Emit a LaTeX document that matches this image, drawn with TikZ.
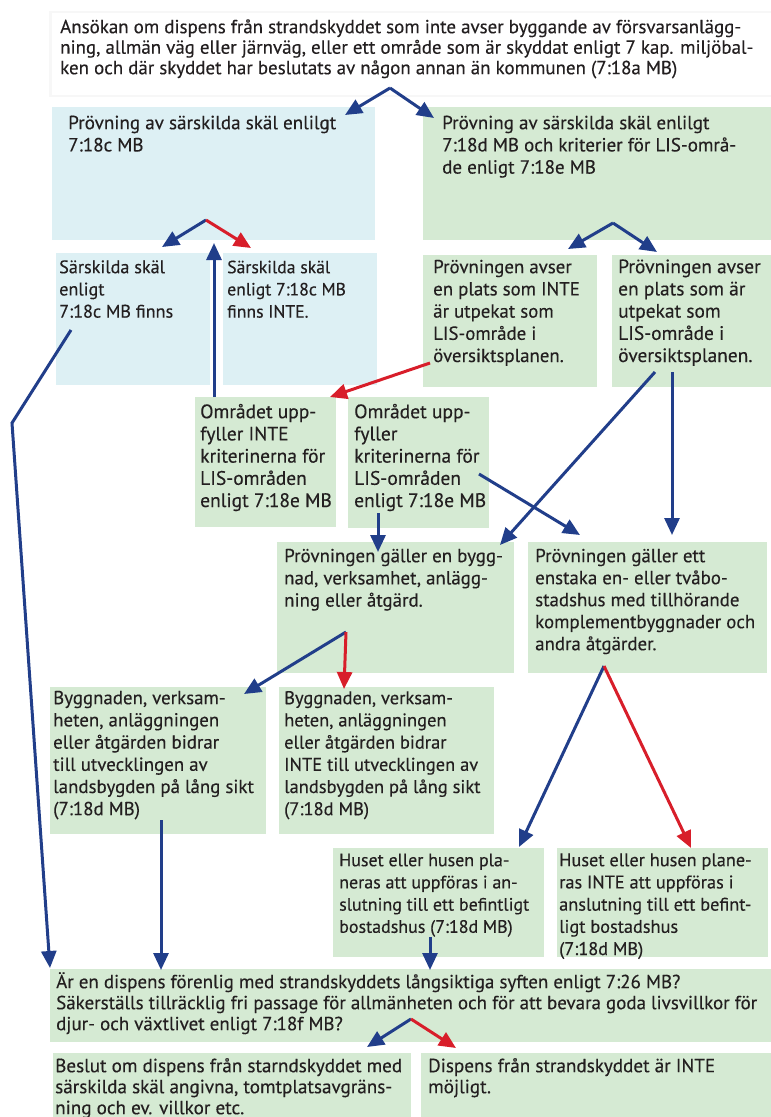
\documentclass[tikz,border=0pt]{standalone}
\usepackage{fontspec}
\setmainfont{PT Sans}[FakeBold=0.3]
\usetikzlibrary{arrows.meta}
\definecolor{boxblue}{HTML}{DDF0F4}
\definecolor{boxgreen}{HTML}{D5EAD3}
\definecolor{arrblue}{HTML}{213E8A}
\definecolor{arrred}{HTML}{D81E2A}
\definecolor{txt}{HTML}{231F20}
\tikzset{
  bx/.style={inner sep=0pt, outer sep=0pt},
  lbl/.style={anchor=north west, inner sep=0pt, align=left, text=txt},
  con/.style={line width=3pt, -{Triangle[length=17pt,width=15pt]}},
  yes/.style={con, arrblue},
  no/.style={con, arrred},
}
\newlength{\mymeasurelen}
\newcommand{\calcfs}[3]{%
  \setbox2=\hbox{\normalfont\fontsize{10}{10}\selectfont #2}%
  \global\mymeasurelen=\wd2\relax
  \ifdim\mymeasurelen>1pt
    \pgfmathsetmacro{\tmpfs}{10*#3/\mymeasurelen}%
  \else
    \def\tmpfs{17}%
  \fi
  \expandafter\xdef\csname myfs#1\endcsname{\tmpfs}}
\newcommand{\mybox}[6]{%
  \fill[#6] (#2,#3) rectangle (#4,#5);
  \node[bx, minimum width={(#4-#2)*1pt}, minimum height={(#5-#3)*1pt}] (#1) at ({(#2+#4)/2},{(#3+#5)/2}) {};
}
% name, x, baseline y, leading, text
\newcommand{\fitnode}[5]{%
  \node[lbl, font=\fontsize{\csname myfs#1\endcsname}{#4}\selectfont] (#1) at (#2,#3-20) {\rule{0pt}{20pt}#5};
}
\begin{document}
\calcfs{ttop}{Ansökan om dispens från strandskyddet som inte avser byggande av försvarsanlägg-}{681}%
\calcfs{tA}{Prövning av särskilda skäl enlilgt}{268}%
\calcfs{tB}{7:18d MB och kriterier för LIS-områ-}{294}%
\calcfs{tC}{7:18c MB finns}{114}%
\calcfs{tD}{enligt 7:18c MB}{118.7}%
\calcfs{tE}{en plats som INTE}{146.7}%
\calcfs{tF}{översiktsplanen.}{134.3}%
\calcfs{tG}{kriterinerna för}{125}%
\calcfs{tH}{kriterinerna för}{125.3}%
\calcfs{tI}{Prövningen gäller en bygg-}{218.7}%
\calcfs{tJ}{komplementbyggnader och}{220}%
\calcfs{tK}{landsbygden på lång sikt}{200.7}%
\calcfs{tL}{INTE till utvecklingen av}{194}%
\calcfs{tM}{slutning till ett befintligt}{190}%
\calcfs{tN}{anslutning till ett befint-}{192.3}%
\calcfs{tO}{Säkerställs tillräcklig fri passage för allmänheten och för att bevara goda livsvillkor för}{701}%
\calcfs{tP}{Beslut om dispens från starndskyddet med}{347}%
\calcfs{tQ}{Dispens från strandskyddet är INTE}{287}%
\begin{tikzpicture}[x=1pt,y=-1pt]
\useasboundingbox (0,0) rectangle (771,1117);
\clip (0,0) rectangle (771,1117);
% top box with faint shadow
\fill[gray!6] (49,11) rectangle (771,97);
\mybox{top}{52}{13}{771}{95}{white}
\mybox{A}{52}{107}{375}{240}{boxblue}
\mybox{B}{423}{107}{771}{240}{boxgreen}
\mybox{C}{56}{253}{210}{385}{boxblue}
\mybox{D}{223}{253}{377}{385}{boxblue}
\mybox{E}{423}{255}{597}{387}{boxgreen}
\mybox{F}{612}{255}{771}{387}{boxgreen}
\mybox{G}{195}{397}{336}{527}{boxgreen}
\mybox{H}{348}{397}{489}{528}{boxgreen}
\mybox{I}{277}{542}{514}{673}{boxgreen}
\mybox{J}{528}{542}{767}{673}{boxgreen}
\mybox{K}{50}{687}{266}{834}{boxgreen}
\mybox{L}{279}{687}{494}{834}{boxgreen}
\mybox{M}{333}{848}{544}{957}{boxgreen}
\mybox{N}{557}{848}{768}{957}{boxgreen}
\mybox{O}{50}{969}{771}{1042}{boxgreen}
\mybox{P}{53}{1053}{411}{1117}{boxgreen}
\mybox{Q}{421}{1053}{771}{1117}{boxgreen}

\fitnode{ttop}{60}{33}{20.5}
  {Ansökan om dispens från strandskyddet som inte avser byggande av försvarsanlägg-\\ning, allmän väg eller järnväg, eller ett område som är skyddat enligt 7 kap. miljöbal-\\ken och där skyddet har beslutats av någon annan än kommunen (7:18a MB)}
\fitnode{tA}{68}{129}{22.2}
  {Prövning av särskilda skäl enlilgt\\7:18c MB}
\fitnode{tB}{442}{129}{22.2}
  {Prövning av särskilda skäl enlilgt\\7:18d MB och kriterier för LIS-områ-\\de enligt 7:18e MB}
\fitnode{tC}{59}{273}{22.2}
  {Särskilda skäl\\enligt\\7:18c MB finns}
\fitnode{tD}{227}{273}{22.2}
  {Särskilda skäl\\enligt 7:18c MB\\finns INTE.}
\fitnode{tE}{433}{273}{22.2}
  {Prövningen avser\\en plats som INTE\\är utpekat som\\LIS-område i\\översiktsplanen.}
\fitnode{tF}{618}{273}{22.2}
  {Prövningen avser\\en plats som är\\utpekat som\\LIS-område i\\översiktsplanen.}
\fitnode{tG}{200}{418}{22.2}
  {Området upp-\\fyller INTE\\kriterinerna för\\LIS-områden\\enligt 7:18e MB}
\fitnode{tH}{354}{418}{22.2}
  {Området upp-\\fyller\\kriterinerna för\\LIS-områden\\enligt 7:18e MB}
\fitnode{tI}{284}{562}{22.2}
  {Prövningen gäller en bygg-\\nad, verksamhet, anlägg-\\ning eller åtgärd.}
\fitnode{tJ}{535}{562}{22}
  {Prövningen gäller ett\\enstaka en- eller tvåbo-\\stadshus med tillhörande\\komplementbyggnader och\\andra åtgärder.}
\fitnode{tK}{53}{704}{22.2}
  {Byggnaden, verksam-\\heten, anläggningen\\eller åtgärden bidrar\\till utvecklingen av\\landsbygden på lång sikt\\(7:18d MB)}
\fitnode{tL}{284}{704}{22.2}
  {Byggnaden, verksam-\\heten, anläggningen\\eller åtgärden bidrar\\INTE till utvecklingen av\\landsbygden på lång sikt\\(7:18d MB)}
\fitnode{tM}{339}{866}{22.2}
  {Huset eller husen pla-\\neras att uppföras i an-\\slutning till ett befintligt\\bostadshus (7:18d MB)}
\fitnode{tN}{559}{866}{22.2}
  {Huset eller husen plane-\\ras INTE att uppföras i\\anslutning till ett befint-\\ligt bostadshus\\(7:18d MB)}
\fitnode{tO}{56}{988}{21}
  {Är en dispens förenlig med strandskyddets långsiktiga syften enligt 7:26 MB?\\Säkerställs tillräcklig fri passage för allmänheten och för att bevara goda livsvillkor för\\djur- och växtlivet enligt 7:18f MB?}
\fitnode{tP}{55}{1072}{21}
  {Beslut om dispens från starndskyddet med\\särskilda skäl angivna, tomtplatsavgräns-\\ning och ev. villkor etc.}
\fitnode{tQ}{428}{1072}{21}
  {Dispens från strandskyddet är INTE\\möjligt.}

% connector coordinates
\coordinate (s1) at (390,88);
\coordinate (s1a) at (345,115);
\coordinate (s1b) at (434,118);
\coordinate (sA) at (206,220);
\coordinate (sAa) at (162,247);
\coordinate (sAb) at (251,248);
\coordinate (upS) at (214,397);
\coordinate (upT) at (214,243);
\coordinate (sB) at (613,223);
\coordinate (sBa) at (568,249);
\coordinate (sBb) at (657,252);
\coordinate (cS) at (71,330);
\coordinate (cK) at (12,423);
\coordinate (cT) at (50,968);
\coordinate (eS) at (430,363);
\coordinate (eT) at (330,397);
\coordinate (fS1) at (655,372);
\coordinate (fT1) at (500,545);
\coordinate (fS2) at (672,372);
\coordinate (fT2) at (672,535);
\coordinate (hS1) at (378,513);
\coordinate (hT1) at (378,552);
\coordinate (hS2) at (479,474);
\coordinate (hT2) at (580,535);
\coordinate (iS) at (346,632);
\coordinate (iTa) at (244,694);
\coordinate (iTb) at (344,689);
\coordinate (jS) at (604,666);
\coordinate (jTa) at (519,847);
\coordinate (jTb) at (691,848);
\coordinate (kS) at (161,820);
\coordinate (kT) at (161,970);
\coordinate (mS) at (430,937);
\coordinate (mT) at (430,970);
\coordinate (oS) at (411,1019);
\coordinate (oTa) at (367,1047);
\coordinate (oTb) at (456,1048);

\draw[yes] (s1) -- (s1a);
\draw[yes] (s1) -- (s1b);
\draw[yes] (sA) -- (sAa);
\draw[no] (sA) -- (sAb);
\draw[yes] (upS) -- (upT);
\draw[yes] (sB) -- (sBa);
\draw[yes] (sB) -- (sBb);
\draw[yes] (cS) -- (cK) -- (cT);
\draw[no] (eS) -- (eT);
\draw[yes] (fS1) -- (fT1);
\draw[yes] (fS2) -- (fT2);
\draw[yes] (hS1) -- (hT1);
\draw[yes] (hS2) -- (hT2);
\draw[yes] (iS) -- (iTa);
\draw[no] (iS) -- (iTb);
\draw[yes] (jS) -- (jTa);
\draw[no] (jS) -- (jTb);
\draw[yes] (kS) -- (kT);
\draw[yes] (mS) -- (mT);
\draw[yes] (oS) -- (oTa);
\draw[no] (oS) -- (oTb);
\end{tikzpicture}
\end{document}
